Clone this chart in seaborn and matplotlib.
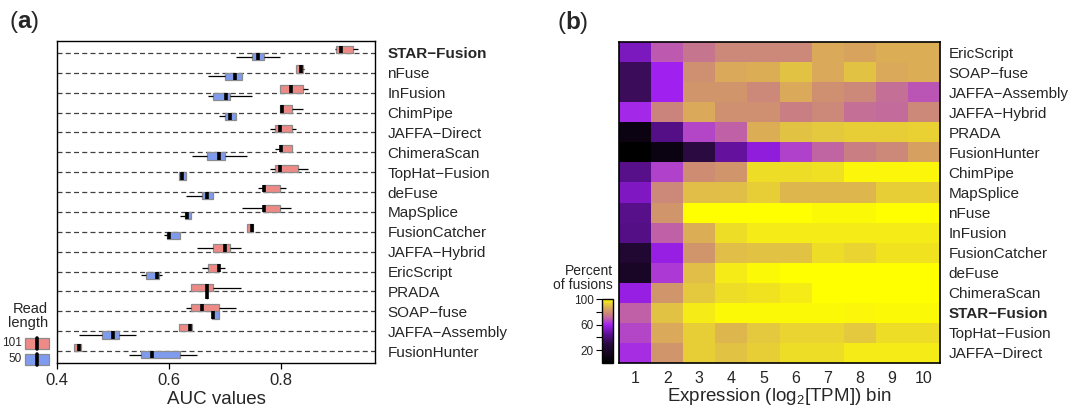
import numpy as np
import pandas as pd
import matplotlib
matplotlib.use('Agg')
import matplotlib.pyplot as plt
import seaborn as sns
from matplotlib.colors import LinearSegmentedColormap
from matplotlib.patches import Rectangle
from matplotlib.lines import Line2D

# ---- panel (a): AUC boxes, 5-number summaries (min, q1, median, q3, max)
methods = ['STAR−Fusion', 'nFuse', 'InFusion', 'ChimPipe', 'JAFFA−Direct', 'ChimeraScan',
           'TopHat−Fusion', 'deFuse', 'MapSplice', 'FusionCatcher', 'JAFFA−Hybrid',
           'EricScript', 'PRADA', 'SOAP−fuse', 'JAFFA−Assembly', 'FusionHunter']

auc_101 = [[0.896, 0.897, 0.906, 0.928, 0.937],
           [0.826, 0.827, 0.835, 0.839, 0.840],
           [0.798, 0.798, 0.818, 0.838, 0.848],
           [0.798, 0.798, 0.802, 0.819, 0.838],
           [0.779, 0.788, 0.798, 0.819, 0.827],
           [0.789, 0.797, 0.799, 0.819, 0.819],
           [0.779, 0.788, 0.798, 0.829, 0.848],
           [0.759, 0.768, 0.769, 0.798, 0.808],
           [0.729, 0.768, 0.769, 0.798, 0.818],
           [0.738, 0.738, 0.747, 0.750, 0.750],
           [0.649, 0.679, 0.699, 0.709, 0.728],
           [0.659, 0.669, 0.688, 0.689, 0.699],
           [0.639, 0.639, 0.668, 0.679, 0.728],
           [0.630, 0.639, 0.658, 0.689, 0.719],
           [0.618, 0.618, 0.637, 0.640, 0.640],
           [0.430, 0.430, 0.439, 0.442, 0.442]]

auc_50 = [[0.719, 0.748, 0.758, 0.769, 0.798],
          [0.670, 0.699, 0.718, 0.729, 0.729],
          [0.670, 0.678, 0.702, 0.709, 0.748],
          [0.689, 0.699, 0.709, 0.719, 0.719],
          None,
          [0.640, 0.668, 0.689, 0.699, 0.738],
          [0.618, 0.618, 0.623, 0.630, 0.630],
          [0.630, 0.659, 0.668, 0.679, 0.679],
          [0.620, 0.629, 0.632, 0.639, 0.639],
          [0.590, 0.597, 0.599, 0.620, 0.620],
          None,
          [0.550, 0.559, 0.578, 0.581, 0.588],
          [0.668, 0.668, 0.668, 0.668, 0.668],
          [0.677, 0.677, 0.679, 0.689, 0.689],
          [0.440, 0.480, 0.500, 0.510, 0.540],
          [0.529, 0.550, 0.569, 0.620, 0.649]]

read_lengths = ['101', '50']
box_colors = {'101': '#EE8A86', '50': '#7F9BEE'}

# ---- panel (b): percent of fusions per expression bin
heat_methods = ['EricScript', 'SOAP−fuse', 'JAFFA−Assembly', 'JAFFA−Hybrid', 'PRADA',
                'FusionHunter', 'ChimPipe', 'MapSplice', 'nFuse', 'InFusion',
                'FusionCatcher', 'deFuse', 'ChimeraScan', 'STAR−Fusion',
                'TopHat−Fusion', 'JAFFA−Direct']
expr_bins = [1, 2, 3, 4, 5, 6, 7, 8, 9, 10]
pct = [[52, 69, 74, 78, 78, 78, 86, 85, 87, 87],
       [35, 60, 80, 86, 87, 91, 86, 91, 86, 87],
       [35, 60, 81, 81, 78, 86, 80, 78, 73, 68],
       [61, 77, 86, 80, 80, 76, 78, 73, 72, 78],
       [8, 43, 66, 70, 87, 91, 92, 93, 93, 93.5],
       [0, 8, 30, 47, 57, 65, 71, 76, 78, 84],
       [44, 65, 79, 81, 95, 95, 95.5, 98.5, 98.5, 98.5],
       [53, 78, 90, 90, 93, 88.5, 88.5, 88.5, 93, 93],
       [44, 81, 100, 100, 100, 100, 99, 99, 100, 100],
       [43, 70, 87, 95, 97, 97, 97, 97, 97, 97],
       [24, 58, 81, 90, 91, 91, 95, 94, 96, 96],
       [18, 64, 90, 97, 99, 100, 100, 100, 100, 100],
       [58, 81, 92, 95, 96, 97, 100, 100, 100, 100],
       [70, 91, 97, 99, 99, 99, 99, 98.5, 99, 99],
       [66, 86, 93, 88.5, 92, 94, 94, 92, 95, 95],
       [62, 81, 93, 91, 93, 95, 95, 97, 97, 97]]

sns.set_style('ticks')
plt.rcParams['font.family'] = ['Liberation Sans', 'DejaVu Sans']
plt.rcParams['mathtext.fontset'] = 'custom'
plt.rcParams['mathtext.rm'] = 'Liberation Sans'
plt.rcParams['mathtext.bf'] = 'Liberation Sans:bold'

W, H = 1073, 412
fig = plt.figure(figsize=(W / 100, H / 100), dpi=100)

# long table for seaborn
rows = []
for m, s101, s50 in zip(methods, auc_101, auc_50):
    for v in s101:
        rows.append((m, '101', v))
    if s50 is not None:
        for v in s50:
            rows.append((m, '50', v))
df = pd.DataFrame(rows, columns=['method', 'read_length', 'auc'])

ax1 = fig.add_axes([57 / W, 49 / H, 318 / W, 322 / H])
sns.boxplot(data=df, x='auc', y='method', hue='read_length', order=methods,
            hue_order=read_lengths, palette=box_colors, width=0.74, dodge=True,
            whis=(0, 100), saturation=1, showcaps=False, linewidth=0.9,
            boxprops=dict(edgecolor='0.55'), whiskerprops=dict(color='black'),
            medianprops=dict(color='black', linewidth=2.6), legend=False, ax=ax1)
# dashed row guides (seaborn switches the categorical grid off, so add after)
ax1.set_axisbelow(True)
ax1.yaxis.grid(True, linestyle=(0, (4, 2.6)), color='0.25', linewidth=0.9)
ax1.set_xlim(0.4, 0.967)
ax1.set_ylim(15.6, -0.6)
ax1.set_xticks([0.4, 0.6, 0.8])
ax1.set_xticklabels(['0.4', '0.6', '0.8'])
ax1.yaxis.tick_right()
ax1.tick_params(axis='y', length=0, pad=9, labelsize=11)
ax1.tick_params(axis='x', length=4, width=0.9, pad=3, labelsize=12, color='black')
ax1.set_ylabel('')
ax1.set_xlabel('AUC values', fontsize=13.5, labelpad=2)
for sp in ax1.spines.values():
    sp.set_visible(True)
    sp.set_color('black')
    sp.set_linewidth(1.0)
for lbl in ax1.get_yticklabels():
    if lbl.get_text() == 'STAR−Fusion':
        lbl.set_fontweight('bold')

# read length legend (left of panel a)
fig.text(48 / W, 1 - 316 / H, 'Read\nlength', ha='right', va='center', fontsize=10.5,
         linespacing=1.05)
for lab, y0 in [('101', 338), ('50', 354)]:
    fig.add_artist(Rectangle((25 / W, 1 - (y0 + 11) / H), 24 / W, 11 / H,
                             transform=fig.transFigure, facecolor=box_colors[lab],
                             edgecolor='0.55', linewidth=0.9))
    fig.add_artist(Line2D([37 / W, 37 / W], [1 - (y0 + 11) / H, 1 - y0 / H],
                          transform=fig.transFigure, color='black', linewidth=2.6))
    fig.text(22 / W, 1 - (y0 + 5.5) / H, lab, ha='right', va='center', fontsize=8.5)

# ---- panel (b)
cmap = LinearSegmentedColormap.from_list('pct', [
    (0.00, '#000000'), (0.30, '#2a0a40'), (0.45, '#5a1090'), (0.60, '#a020f0'),
    (0.70, '#c060a8'), (0.78, '#cc8878'), (0.86, '#d9a85a'), (0.93, '#e6cc3a'),
    (1.00, '#ffff00')])

heat_df = pd.DataFrame(pct, index=heat_methods, columns=expr_bins)
ax2 = fig.add_axes([619 / W, 49 / H, 321 / W, 321 / H])
cax = fig.add_axes([602 / W, 49 / H, 11 / W, 64 / H])
sns.heatmap(heat_df, cmap=cmap, vmin=0, vmax=100, ax=ax2, cbar_ax=cax,
            cbar_kws={'ticks': [20, 60, 100]})
ax2.yaxis.tick_right()
ax2.set_yticklabels(heat_methods, rotation=0, fontsize=11)
ax2.set_xticklabels([str(b) for b in expr_bins], rotation=0, fontsize=11.5)
ax2.tick_params(axis='both', length=0)
ax2.tick_params(axis='x', pad=6)
ax2.tick_params(axis='y', pad=6)
ax2.set_xlabel('Expression (log$_{\\mathregular{2}}$[TPM]) bin', fontsize=13.5, labelpad=0)
ax2.set_ylabel('')
for sp in ax2.spines.values():
    sp.set_visible(True)
    sp.set_color('black')
    sp.set_linewidth(1.2)
for lbl in ax2.get_yticklabels():
    if lbl.get_text() == 'STAR−Fusion':
        lbl.set_fontweight('bold')

cbar = ax2.collections[0].colorbar
cbar.outline.set_edgecolor('black')
cbar.outline.set_linewidth(1.0)
cax.yaxis.set_ticks_position('left')
cax.set_yticks([40, 80], minor=True)
cax.tick_params(which='both', length=4, width=0.8, labelsize=8.5, pad=2, color='black')
fig.text(613 / W, 1 - 278 / H, 'Percent\nof fusions', ha='right', va='center',
         fontsize=10, linespacing=1.05)

# panel letters
fig.text(24 / W, 1 - 22 / H, '($\\mathbf{a}$)', ha='center', va='center', fontsize=17.5)
fig.text(573 / W, 1 - 22 / H, '($\\mathbf{b}$)', ha='center', va='center', fontsize=17.5)

fig.savefig('out.png', dpi=100)
